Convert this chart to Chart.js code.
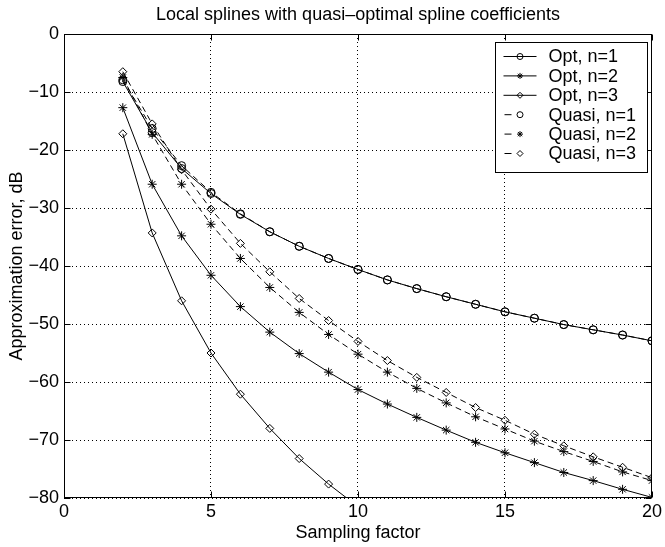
<!DOCTYPE html>
<html>
<head>
<meta charset="utf-8">
<script src="https://cdn.jsdelivr.net/npm/chart.js@4"></script>
<style>
  body { margin: 0; background: #fff; }
</style>
</head>
<body>
<canvas id="myChart" width="665" height="547"></canvas>
<script>
// values (dB)
const samplingFactor = [2, 3, 4, 5, 6, 7, 8, 9, 10, 11, 12, 13, 14, 15, 16, 17, 18, 19, 20];
const optN1 = [-8.2, -17.0, -23.2, -27.5, -31.1, -34.1, -36.6, -38.7, -40.6, -42.4, -43.9, -45.3, -46.6, -47.9, -49.0, -50.1, -51.0, -51.9, -52.9];
const optN2 = [-12.7, -25.9, -34.8, -41.6, -47.0, -51.4, -55.1, -58.3, -61.3, -63.8, -66.1, -68.3, -70.4, -72.2, -73.9, -75.6, -77.0, -78.5, -79.9];
const optN3 = [-17.2, -34.3, -46.0, -55.0, -62.1, -68.0, -73.2, -77.6, -81.5];
const quasiN1 = [-7.9, -16.3, -22.7, -27.3, -31.0, -34.1, -36.6, -38.7, -40.6, -42.4, -43.9, -45.3, -46.6, -47.9, -49.0, -50.1, -51.0, -51.9, -52.9];
const quasiN2 = [-7.5, -17.3, -25.9, -32.8, -38.7, -43.7, -48.0, -51.8, -55.2, -58.3, -61.1, -63.6, -66.0, -68.1, -70.2, -72.0, -73.7, -75.5, -77.0];
const quasiN3 = [-6.5, -15.5, -23.4, -30.2, -36.1, -41.0, -45.6, -49.4, -53.0, -56.3, -59.2, -61.8, -64.4, -66.6, -69.0, -71.0, -72.9, -74.7, -76.5];

const xTicks = [0, 5, 10, 15, 20];
const yTicks = [0, -10, -20, -30, -40, -50, -60, -70, -80];
const chartTitle = 'Local splines with quasi\u2013optimal spline coefficients';

const FONT = 'Liberation Sans, Arial, Helvetica, sans-serif';
Chart.defaults.font.family = FONT;
Chart.defaults.font.size = 18;
Chart.defaults.color = '#000';

function pts(vals) {
  return vals.map((v, i) => ({ x: samplingFactor[i], y: v }));
}

function series(label, vals, style, dashed) {
  return {
    label: label,
    data: pts(vals),
    borderColor: '#000',
    borderWidth: 1,
    borderDash: dashed ? [6, 4] : [],
    pointStyle: style,
    pointRadius: style === 'star' ? 4.5 : 4,
    pointBorderColor: '#000',
    pointBackgroundColor: 'rgba(0,0,0,0)',
    pointBorderWidth: 1,
    tension: 0,
    fill: false
  };
}

// title over the plot, box around the axes, inward ticks and a matlab-like legend
const frame = {
  id: 'frame',
  afterDatasetsDraw(chart) {
    const { ctx, chartArea: a, scales } = chart;
    const L = Math.round(a.left) + 0.5, R = Math.round(a.right) - 0.5;
    const T = Math.round(a.top) + 0.5, B = Math.round(a.bottom) - 0.5;
    ctx.save();
    ctx.strokeStyle = '#000';
    ctx.lineWidth = 1;
    ctx.setLineDash([]);
    ctx.strokeRect(L, T, R - L, B - T);

    ctx.beginPath();
    xTicks.forEach(v => {
      const px = Math.round(scales.x.getPixelForValue(v)) + 0.5;
      ctx.moveTo(px, B); ctx.lineTo(px, B - 6);
      ctx.moveTo(px, T); ctx.lineTo(px, T + 6);
    });
    yTicks.forEach(v => {
      const py = Math.round(scales.y.getPixelForValue(v)) + 0.5;
      ctx.moveTo(L, py); ctx.lineTo(L + 6, py);
      ctx.moveTo(R, py); ctx.lineTo(R - 6, py);
    });
    ctx.stroke();

    ctx.font = '18px ' + FONT;
    ctx.fillStyle = '#000';
    ctx.textAlign = 'center';
    ctx.textBaseline = 'middle';
    ctx.fillText(chartTitle, (a.left + a.right) / 2, a.top - 19);

    // legend
    const bw = 152, bh = 130;
    const bx = Math.round(a.right - 5 - bw) + 0.5, by = Math.round(a.top + 8) + 0.5;
    ctx.fillStyle = '#fff';
    ctx.fillRect(bx, by, bw, bh);
    ctx.strokeRect(bx, by, bw, bh);
    ctx.textAlign = 'left';
    chart.data.datasets.forEach((ds, i) => {
      const yc = by + 14 + i * 19.4;
      const dashed = ds.borderDash.length > 0;
      ctx.strokeStyle = '#000';
      ctx.beginPath();
      if (dashed) {
        ctx.moveTo(bx + 9, yc); ctx.lineTo(bx + 16, yc);
      } else {
        ctx.moveTo(bx + 8, yc); ctx.lineTo(bx + 41, yc);
      }
      ctx.stroke();
      ctx.fillStyle = 'rgba(0,0,0,0)';
      Chart.helpers.drawPoint(ctx, { pointStyle: ds.pointStyle, radius: 3, borderWidth: 1, rotation: 0 }, bx + 24.5, yc);
      ctx.fillStyle = '#000';
      ctx.fillText(ds.label, bx + 53, yc + 1);
    });
    ctx.restore();
  }
};

const config = {
  type: 'line',
  data: {
    datasets: [
      series('Opt, n=1', optN1, 'circle', false),
      series('Opt, n=2', optN2, 'star', false),
      series('Opt, n=3', optN3, 'rectRot', false),
      series('Quasi, n=1', quasiN1, 'circle', true),
      series('Quasi, n=2', quasiN2, 'star', true),
      series('Quasi, n=3', quasiN3, 'rectRot', true)
    ]
  },
  options: {
    responsive: false,
    animation: false,
    layout: { padding: { top: 34, right: 13, left: 0, bottom: 0 } },
    plugins: {
      legend: { display: false },
      tooltip: { enabled: false },
      title: { display: false }
    },
    scales: {
      x: {
        type: 'linear',
        min: 0,
        max: 20,
        afterFit: s => { s.height = 49; },
        ticks: { stepSize: 5, padding: 3, maxRotation: 0, font: { size: 18 } },
        grid: { color: '#000', lineWidth: 1, drawTicks: false },
        border: { display: false, dash: [1, 3] },
        title: { display: true, text: 'Sampling factor', font: { size: 18 }, padding: { top: 0, bottom: 3.5 } }
      },
      y: {
        min: -80,
        max: 0,
        afterFit: s => { s.width = 64; },
        ticks: {
          stepSize: 10,
          padding: 5,
          font: { size: 18 },
          callback: v => String(v).replace('-', '\u2212')
        },
        grid: { color: '#000', lineWidth: 1, drawTicks: false },
        border: { display: false, dash: [1, 3] },
        title: { display: true, text: 'Approximation error, dB', font: { size: 18 }, padding: { top: 6, bottom: 0 } }
      }
    }
  },
  plugins: [frame]
};

const canvasChart = document.getElementById('myChart');
const myChart = new Chart(canvasChart, config);
</script>
</body>
</html>
